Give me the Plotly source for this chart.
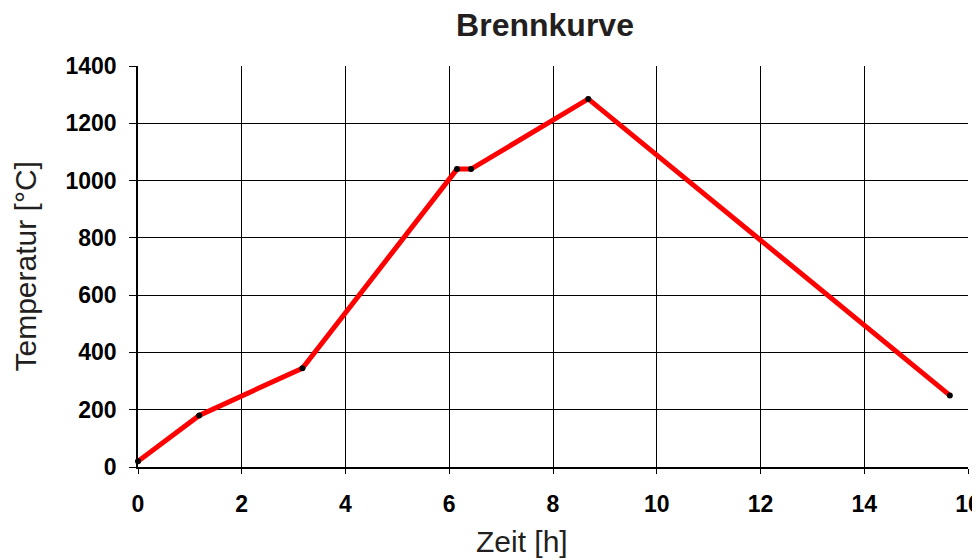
import plotly.graph_objects as go

zeit_h = [0, 1.18, 3.17, 6.15, 6.42, 8.68, 15.65]
temperatur_c = [20, 180, 345, 1040, 1040, 1285, 250]

x_ticks = [0, 2, 4, 6, 8, 10, 12, 14, 16]
y_ticks = [0, 200, 400, 600, 800, 1000, 1200, 1400]

fig = go.Figure()
fig.add_trace(go.Scatter(
    x=zeit_h, y=temperatur_c, mode="lines+markers",
    line=dict(color="#ff0000", width=5),
    marker=dict(color="black", size=6),
    showlegend=False, cliponaxis=False,
))

font = "Liberation Sans, Arial, sans-serif"
# page is offset by the 8px body margin; figure is sized to fit the window
W, H = 972, 552
L, T = 130, 58
R, B = W - 960, H - 459
pw, ph = W - L - R, H - T - B

fig.update_layout(
    width=W, height=H,
    margin=dict(l=L, r=R, t=T, b=B, autoexpand=False),
    paper_bgcolor="white", plot_bgcolor="white",
    title=dict(text="<b>Brennkurve</b>", x=537 / W, xanchor="center",
               y=1 - 17 / H, yanchor="middle", xref="container", yref="container",
               font=dict(family=font, size=32, color="#231f20")),
    font=dict(family=font, color="black"),
    annotations=[
        dict(text="Zeit [h]", xref="paper", yref="paper",
             x=(514 - L) / pw, y=-(533 - (H - B)) / ph,
             xanchor="center", yanchor="middle", showarrow=False,
             font=dict(family=font, size=30, color="#231f20")),
        dict(text="Temperatur [°C]", xref="paper", yref="paper",
             x=(17 - L) / pw, y=0.5, textangle=-90,
             xanchor="center", yanchor="middle", showarrow=False,
             font=dict(family=font, size=30, color="#231f20")),
    ],
)
fig.update_xaxes(
    range=[0, 16], tickvals=x_ticks, ticktext=[str(v) for v in x_ticks],
    showgrid=True, gridcolor="black", gridwidth=1,
    showline=True, linecolor="black", linewidth=1.5,
    ticks="outside", ticklen=5, tickcolor="black",
    ticklabelstandoff=11, automargin=False, ticklabeloverflow="allow",
    tickfont=dict(family=font, size=23, color="black", weight="bold"),
    zeroline=False,
)
fig.update_yaxes(
    range=[0, 1400], tickvals=y_ticks, ticktext=[str(v) for v in y_ticks],
    showgrid=True, gridcolor="black", gridwidth=1,
    showline=True, linecolor="black", linewidth=1.5,
    ticks="outside", ticklen=7, tickcolor="black",
    ticklabelstandoff=8, automargin=False, ticklabeloverflow="allow",
    tickfont=dict(family=font, size=23, color="black", weight="bold"),
    zeroline=False,
)

fig.write_html("out.html")
